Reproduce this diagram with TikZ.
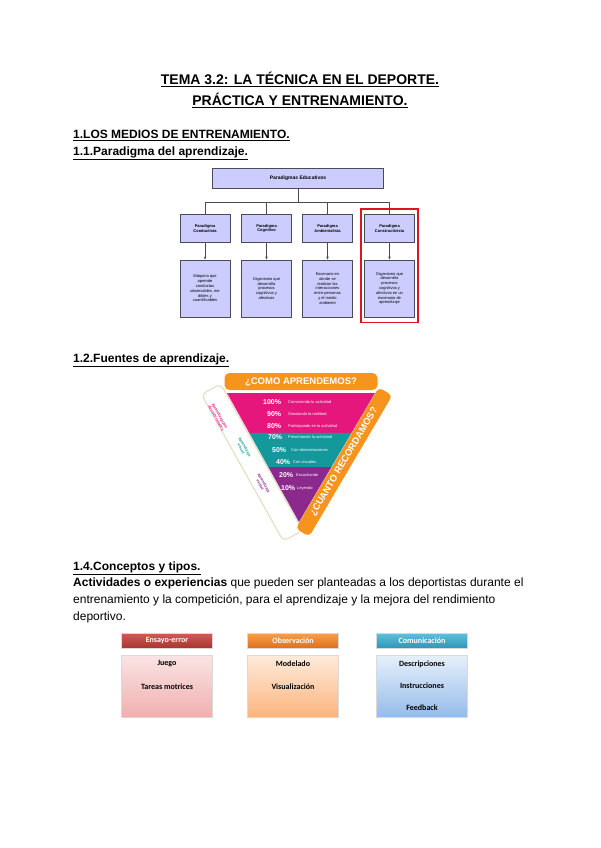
\documentclass[tikz,border=0pt]{standalone}
\usepackage{fontspec}
\setmainfont{Liberation Sans}
\newfontfamily\calfont{Carlito}
\usepackage{tikz}
\usetikzlibrary{arrows.meta,positioning,fit,calc}
\definecolor{lavender}{HTML}{CCCCFF}
\definecolor{framegray}{HTML}{4A4A5A}
\definecolor{hilite}{HTML}{E0141E}
\definecolor{conorange}{HTML}{F7941D}
\definecolor{conpink}{HTML}{E5177D}
\definecolor{conteal}{HTML}{14989B}
\definecolor{conpurple}{HTML}{8B2A8C}
\definecolor{stripline}{HTML}{E6DFC8}
\definecolor{ensredtop}{HTML}{D25A56}
\definecolor{ensredbot}{HTML}{A8372F}
\definecolor{obstop}{HTML}{F7A04E}
\definecolor{obsbot}{HTML}{E0701A}
\definecolor{comtop}{HTML}{63C0DA}
\definecolor{combot}{HTML}{2E96B8}
\definecolor{pinklight}{HTML}{FBE4E4}
\definecolor{pinkdeep}{HTML}{F0AFAF}
\definecolor{peachlight}{HTML}{FEEBDC}
\definecolor{peachdeep}{HTML}{FAB57E}
\definecolor{bluelight}{HTML}{E6F0FA}
\definecolor{bluedeep}{HTML}{95BBEA}
\tikzset{
  heading/.style={anchor=base west,inner sep=0pt,font=\fontsize{12}{14}\selectfont\bfseries},
  bodytxt/.style={anchor=base west,inner sep=0pt,font=\fontsize{12}{14}\selectfont},
  pbox/.style={rectangle,draw=framegray,line width=0.9pt,fill=lavender,
    align=center,inner sep=1pt},
  phead/.style={pbox,minimum width=50pt,minimum height=28pt,
    font=\fontsize{4}{4.6}\selectfont\bfseries},
  pbody/.style={pbox,minimum width=50pt,minimum height=57pt,
    font=\fontsize{4}{4.8}\selectfont},
  plink/.style={draw=framegray,line width=0.7pt},
  parr/.style={plink,-{Stealth[length=3pt,width=2.5pt]}},
  pct/.style={anchor=west,inner sep=0pt,text=white,font=\fontsize{7}{8}\selectfont\bfseries},
  pdesc/.style={anchor=west,inner sep=0pt,text=white,font=\fontsize{4}{5}\selectfont},
  sidetxt/.style={align=center,inner sep=0pt,rotate=-60.8,
    font=\fontsize{3.8}{4.2}\selectfont\bfseries},
  thead/.style={rectangle,minimum width=91pt,minimum height=15pt,text=white,
    draw=black!15,line width=0.3pt,font=\calfont\fontsize{8}{9}\selectfont\bfseries},
  tbody/.style={rectangle,minimum width=91pt,minimum height=62pt,
    draw=black!15,line width=0.4pt},
  titem/.style={inner sep=0pt,font=\calfont\fontsize{8}{9}\selectfont\bfseries},
}
\begin{document}
\begin{tikzpicture}[x=1pt,y=-1pt]
\fill[white] (0,0) rectangle (600,848);
\useasboundingbox (0,0) rectangle (600,848);

% titles
\node[anchor=base,inner sep=0pt,font=\fontsize{14}{16}\selectfont\bfseries] (title1) at (300,85) {\underline{TEMA 3.2: LA TÉCNICA EN EL DEPORTE.}};
\node[anchor=base,inner sep=0pt,font=\fontsize{14}{16}\selectfont\bfseries] (title2) at (300,106) {\underline{PRÁCTICA Y ENTRENAMIENTO.}};
\node[heading] (sec1) at (73,139) {\underline{1.LOS MEDIOS DE ENTRENAMIENTO.}};
\node[heading] (sec11) at (73,155) {\underline{1.1.Paradigma del aprendizaje.}};

% paradigmas
\node[pbox,minimum width=171pt,minimum height=20pt,font=\fontsize{5}{6}\selectfont\bfseries] (pe) at (298,178) {Paradigmas Educativos};
\coordinate (bar) at (298,202);
\node[phead] (h1) at (205,228.5) {Paradigma\\Conductista};
\node[phead] (h2) at (266.5,228.5) {Paradigma\\Cognitivo};
\node[phead] (h3) at (327.5,228.5) {Paradigma\\Ambientalista};
\node[phead] (h4) at (389.5,228.5) {Paradigma\\Constructivista};
\node[pbody] (b1) at (205,288.5) {Máquina que\\aprende\\conductas\\observables, me\\dibles y\\cuantificables};
\node[pbody] (b2) at (266.5,288.5) {Organismo que\\desarrolla\\procesos\\cognitivos y\\afectivos};
\node[pbody] (b3) at (327.5,288.5) {Escenario en\\donde se\\realizan las\\interacciones\\entre personas\\y el medio\\ambiente};
\node[pbody] (b4) at (389.5,288.5) {Organismo que\\desarrolla\\procesos\\cognitivos y\\afectivos en un\\escenario de\\aprendizaje};

\draw[plink] (pe) -- (bar);
\draw[plink] (h1 |- bar) -- (h4 |- bar);
\draw[plink] (h1 |- bar) -- (h1);
\draw[plink] (h2 |- bar) -- (h2);
\draw[plink] (h3 |- bar) -- (h3);
\draw[plink] (h4 |- bar) -- (h4);
\draw[parr] (h1) -- (b1);
\draw[parr] (h2) -- (b2);
\draw[parr] (h3) -- (b3);
\draw[parr] (h4) -- (b4);
\node[draw=hilite,line width=1.6pt,fit=(h4)(b4),inner xsep=3pt,inner ysep=5pt] (focus) {};

\node[heading] (sec12) at (73,362) {\underline{1.2.Fuentes de aprendizaje.}};

% piramide
\coordinate (tl) at (227,393);
\coordinate (tr) at (375,393);
\coordinate (ap) at (299,522);
\node[rectangle,rounded corners=5pt,draw=stripline,line width=1.2pt,fill=white,rotate=-60.8,
  minimum width=168pt,minimum height=22pt] (strip) at (252,462.5) {};
\node[rectangle,rounded corners=5pt,draw=white,line width=1pt,fill=conorange,rotate=59.5,
  minimum width=165pt,minimum height=17pt,text=white,font=\fontsize{9.5}{10}\selectfont\bfseries] (cuanto) at (344,462) {¿CUANTO RECORDAMOS?};
\node[rectangle,rounded corners=5pt,fill=conorange,minimum width=153pt,minimum height=17pt,
  text=white,font=\fontsize{9.5}{10}\selectfont\bfseries] (como) at (301,381.5) {¿COMO APRENDEMOS?};
\fill[conpink] (tl) -- (tr) -- ($(tr)!0.31!(ap)$) -- ($(tl)!0.31!(ap)$) -- cycle;
\fill[conteal] ($(tl)!0.31!(ap)$) -- ($(tr)!0.31!(ap)$) -- ($(tr)!0.574!(ap)$) -- ($(tl)!0.574!(ap)$) -- cycle;
\fill[conpurple] ($(tl)!0.574!(ap)$) -- ($(tr)!0.574!(ap)$) -- (ap) -- cycle;

\node[pct] (p100) at (263,402) {100\%};
\node[pdesc] (d100) at (288,402) {Conviviendo la actividad};
\node[pct] (p90) at (267,414) {90\%};
\node[pdesc] (d90) at (288,414) {Simulando la realidad};
\node[pct] (p80) at (267,426) {80\%};
\node[pdesc] (d80) at (288,426) {Participando en la actividad};
\node[pct] (p70) at (268,437) {70\%};
\node[pdesc] (d70) at (288,437) {Presentando la actividad};
\node[pct] (p50) at (272,450) {50\%};
\node[pdesc] (d50) at (291,450) {Con demostraciones};
\node[pct] (p40) at (276,462) {40\%};
\node[pdesc] (d40) at (293,462) {Con visuales};
\node[pct] (p20) at (279,475) {20\%};
\node[pdesc] (d20) at (296,475) {Escuchando};
\node[pct] (p10) at (281,488) {10\%};
\node[pdesc] (d10) at (297,488) {Leyendo};

\node[sidetxt,text=conpink] (descub) at (218,417) {Aprendizaje por\\descubrimiento};
\node[sidetxt,text=conteal] (visual) at (243,448) {Aprendizaje\\visual};
\node[sidetxt,text=conpurple] (verbal) at (262,484) {Aprendizaje\\verbal};

% conceptos y tipos
\node[heading] (sec14) at (73,570) {\underline{1.4.Conceptos y tipos.}};
\node[bodytxt] (intro1) at (73,586) {\textbf{Actividades o experiencias} que pueden ser planteadas a los deportistas durante el};
\node[bodytxt] (intro2) at (73,603) {entrenamiento y la competición, para el aprendizaje y la mejora del rendimiento};
\node[bodytxt] (intro3) at (73,620) {deportivo.};

\node[thead,top color=ensredtop,bottom color=ensredbot] (ens) at (167,640.5) {Ensayo-error};
\node[thead,top color=obstop,bottom color=obsbot] (obs) at (293,640.5) {Observación};
\node[thead,top color=comtop,bottom color=combot] (com) at (422,640.5) {Comunicación};
\node[tbody,top color=pinklight,bottom color=pinkdeep] (ensbox) at (167,686) {};
\node[tbody,top color=peachlight,bottom color=peachdeep] (obsbox) at (293,686) {};
\node[tbody,top color=bluelight,bottom color=bluedeep] (combox) at (422,686) {};
\node[titem] (juego) at (167,664) {Juego};
\node[titem] (tareas) at (167,687) {Tareas motrices};
\node[titem] (modelado) at (293,664) {Modelado};
\node[titem] (visualiz) at (293,687) {Visualización};
\node[titem] (descrip) at (422,664) {Descripciones};
\node[titem] (instruc) at (422,686) {Instrucciones};
\node[titem] (feedback) at (422,708) {Feedback};
\end{tikzpicture}
\end{document}
